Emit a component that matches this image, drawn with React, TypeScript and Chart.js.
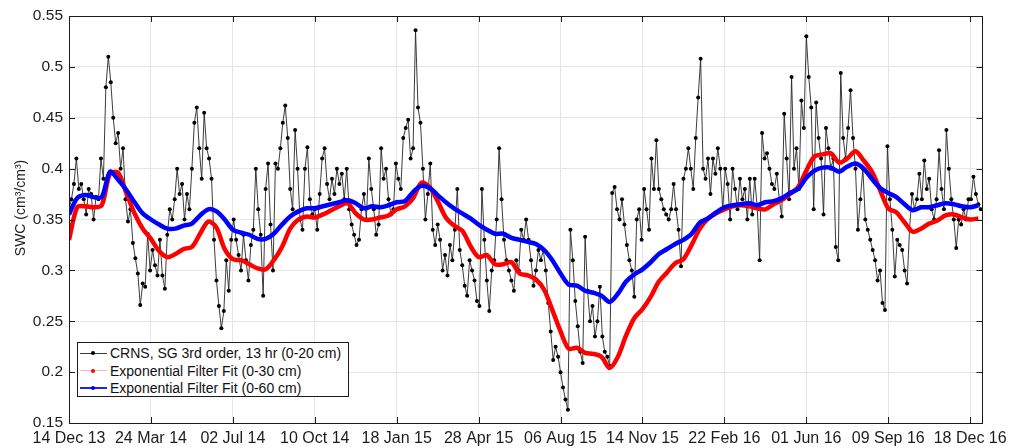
import React, { useEffect, useRef } from "react";
import { Chart, registerables } from "chart.js";

Chart.register(...registerables);

// x axis is measured in days after 14 Dec 2013
const X_MAX_DAYS = 1115;
const X_TICK_DAYS = [0, 100, 200, 300, 400, 500, 600, 700, 800, 900, 1000, 1100];
const X_TICK_LABELS = [
  "14 Dec 13", "24 Mar 14", "02 Jul 14", "10 Oct 14", "18 Jan 15", "28 Apr 15",
  "06 Aug 15", "14 Nov 15", "22 Feb 16", "01 Jun 16", "09 Sep 16", "18 Dec 16",
];
const Y_TICKS = [0.15, 0.2, 0.25, 0.3, 0.35, 0.4, 0.45, 0.5, 0.55];
const Y_TICK_LABELS = ["0.15", "0.2", "0.25", "0.3", "0.35", "0.4", "0.45", "0.5", "0.55"];

const Y_TITLE = "SWC (cm³/cm³)";
const SERIES_NAMES = [
  "CRNS, SG 3rd order, 13 hr (0-20 cm)",
  "Exponential Filter Fit (0-30 cm)",
  "Exponential Filter Fit (0-60 cm)",
];

// CRNS soil water content, one value every 3 days
const CRNS_STEP_DAYS = 3;
const CRNS_SWC = [
  0.36, 0.37, 0.385, 0.41, 0.38, 0.385, 0.37, 0.355, 0.38, 0.375,
  0.35, 0.372, 0.37, 0.41, 0.39, 0.48, 0.51, 0.485, 0.45, 0.425,
  0.435, 0.40, 0.42, 0.37, 0.348, 0.36, 0.327, 0.312, 0.297, 0.266,
  0.287, 0.284, 0.336, 0.30, 0.32, 0.305, 0.295, 0.33, 0.295, 0.282,
  0.335, 0.36, 0.35, 0.37, 0.40, 0.375, 0.385, 0.35, 0.375, 0.36,
  0.40, 0.445, 0.46, 0.42, 0.39, 0.455, 0.42, 0.41, 0.39, 0.33,
  0.29, 0.265, 0.243, 0.26, 0.31, 0.28, 0.33, 0.35, 0.33, 0.315,
  0.30, 0.335, 0.31, 0.29, 0.325, 0.34, 0.40, 0.36, 0.335, 0.275,
  0.38, 0.405, 0.345, 0.30, 0.405, 0.40, 0.42, 0.445, 0.462, 0.43,
  0.38, 0.36, 0.438, 0.40, 0.35, 0.34, 0.40, 0.421, 0.37, 0.355,
  0.36, 0.34, 0.375, 0.41, 0.42, 0.385, 0.37, 0.39, 0.375, 0.40,
  0.385, 0.395, 0.37, 0.40, 0.36, 0.345, 0.335, 0.325, 0.33, 0.36,
  0.375, 0.35, 0.41, 0.38, 0.36, 0.335, 0.345, 0.42, 0.39, 0.40,
  0.37, 0.355, 0.36, 0.405, 0.39, 0.38, 0.43, 0.44, 0.448, 0.41,
  0.42, 0.536, 0.46, 0.445, 0.40, 0.35, 0.375, 0.405, 0.34, 0.325,
  0.345, 0.33, 0.30, 0.315, 0.295, 0.325, 0.31, 0.34, 0.38, 0.32,
  0.305, 0.285, 0.275, 0.31, 0.30, 0.29, 0.27, 0.265, 0.38, 0.33,
  0.29, 0.26, 0.30, 0.31, 0.35, 0.42, 0.37, 0.33, 0.31, 0.30,
  0.29, 0.28, 0.31, 0.30, 0.34, 0.33, 0.35, 0.33, 0.31, 0.285,
  0.30, 0.32, 0.31, 0.32, 0.30, 0.268, 0.24, 0.212, 0.225, 0.215,
  0.20, 0.185, 0.173, 0.163, 0.34, 0.31, 0.27, 0.245, 0.22, 0.209,
  0.333, 0.28, 0.25, 0.265, 0.235, 0.25, 0.284, 0.235, 0.22, 0.215,
  0.206, 0.376, 0.382, 0.36, 0.35, 0.37, 0.345, 0.325, 0.31, 0.30,
  0.274, 0.35, 0.36, 0.33, 0.38, 0.36, 0.34, 0.41, 0.38, 0.428,
  0.38, 0.37, 0.36, 0.355, 0.35, 0.36, 0.385, 0.36, 0.34, 0.304,
  0.39, 0.40, 0.42, 0.40, 0.38, 0.43, 0.47, 0.508, 0.40, 0.39,
  0.41, 0.375, 0.41, 0.395, 0.42, 0.40, 0.36, 0.40, 0.385, 0.35,
  0.40, 0.38, 0.36, 0.39, 0.37, 0.38, 0.35, 0.39, 0.355, 0.39,
  0.363, 0.31, 0.435, 0.41, 0.415, 0.40, 0.385, 0.38, 0.395, 0.37,
  0.353, 0.454, 0.41, 0.37, 0.49, 0.40, 0.42, 0.38, 0.467, 0.44,
  0.53, 0.49, 0.46, 0.36, 0.465, 0.43, 0.41, 0.355, 0.44, 0.42,
  0.40, 0.41, 0.323, 0.31, 0.494, 0.43, 0.41, 0.44, 0.477, 0.43,
  0.40, 0.34, 0.37, 0.40, 0.35, 0.34, 0.33, 0.32, 0.31, 0.29,
  0.30, 0.268, 0.261, 0.422, 0.37, 0.34, 0.294, 0.33, 0.325, 0.32,
  0.30, 0.287, 0.34, 0.375, 0.36, 0.37, 0.395, 0.37, 0.408, 0.38,
  0.39, 0.36, 0.35, 0.37, 0.418, 0.38, 0.36, 0.438, 0.40, 0.37,
  0.35, 0.322, 0.35, 0.345, 0.36, 0.35, 0.37, 0.37, 0.392, 0.375,
  0.365, 0.36,
];

// Exponential filter fits, one value every 10 days
const FIT_STEP_DAYS = 10;
const FIT_0_30 = [
  0.330, 0.362, 0.363, 0.362, 0.364, 0.395, 0.396, 0.376, 0.356, 0.341,
  0.331, 0.319, 0.313, 0.316, 0.321, 0.323, 0.336, 0.348, 0.342, 0.321,
  0.311, 0.310, 0.306, 0.302, 0.301, 0.310, 0.323, 0.341, 0.350, 0.353,
  0.352, 0.355, 0.359, 0.363, 0.366, 0.356, 0.350, 0.350, 0.352, 0.354,
  0.360, 0.363, 0.371, 0.386, 0.382, 0.368, 0.352, 0.344, 0.339, 0.324,
  0.313, 0.315, 0.306, 0.306, 0.308, 0.297, 0.295, 0.291, 0.281, 0.261,
  0.240, 0.223, 0.224, 0.219, 0.218, 0.215, 0.204, 0.215, 0.236, 0.253,
  0.262, 0.274, 0.289, 0.298, 0.307, 0.311, 0.325, 0.341, 0.351, 0.356,
  0.360, 0.363, 0.364, 0.363, 0.361, 0.360, 0.365, 0.369, 0.375, 0.382,
  0.398, 0.412, 0.414, 0.415, 0.406, 0.410, 0.417, 0.408, 0.397, 0.379,
  0.361, 0.357, 0.347, 0.338, 0.341, 0.346, 0.349, 0.354, 0.355, 0.352,
  0.350, 0.351,
];
const FIT_0_60 = [
  0.355, 0.371, 0.374, 0.372, 0.372, 0.397, 0.389, 0.379, 0.367, 0.356,
  0.350, 0.345, 0.341, 0.341, 0.344, 0.346, 0.354, 0.360, 0.358, 0.350,
  0.340, 0.337, 0.335, 0.331, 0.331, 0.336, 0.345, 0.353, 0.358, 0.361,
  0.361, 0.363, 0.365, 0.367, 0.369, 0.366, 0.361, 0.363, 0.362, 0.364,
  0.367, 0.368, 0.377, 0.383, 0.381, 0.374, 0.367, 0.361, 0.356, 0.351,
  0.345, 0.340, 0.336, 0.336, 0.332, 0.330, 0.328, 0.326, 0.320, 0.310,
  0.297, 0.286, 0.285, 0.280, 0.278, 0.275, 0.269, 0.277, 0.289, 0.296,
  0.301, 0.308, 0.316, 0.321, 0.326, 0.330, 0.336, 0.347, 0.351, 0.357,
  0.362, 0.364, 0.365, 0.366, 0.364, 0.367, 0.368, 0.371, 0.376, 0.380,
  0.391, 0.398, 0.401, 0.401, 0.397, 0.402, 0.405, 0.400, 0.390, 0.381,
  0.376, 0.372, 0.365, 0.359, 0.362, 0.362, 0.364, 0.366, 0.365, 0.363,
  0.362, 0.364,
];

const FONT = "'Liberation Sans', Arial, Helvetica, sans-serif";
const INK = "#1c1c1c";

// axes box, inward tick marks and the rotated y title
const framePlugin = {
  id: "frame",
  afterDatasetsDraw(chart: any) {
    const { ctx, chartArea } = chart;
    const { left, right, top, bottom } = chartArea;
    const xs = chart.scales.x;
    const ys = chart.scales.y;
    ctx.save();
    ctx.strokeStyle = INK;
    ctx.lineWidth = 1;
    ctx.beginPath();
    for (const d of X_TICK_DAYS) {
      const px = Math.round(xs.getPixelForValue(d)) + 0.5;
      ctx.moveTo(px, bottom);
      ctx.lineTo(px, bottom - 6);
      ctx.moveTo(px, top);
      ctx.lineTo(px, top + 6);
    }
    for (const v of Y_TICKS) {
      const py = Math.round(ys.getPixelForValue(v)) + 0.5;
      ctx.moveTo(left, py);
      ctx.lineTo(left + 6, py);
      ctx.moveTo(right, py);
      ctx.lineTo(right - 6, py);
    }
    ctx.stroke();
    ctx.strokeRect(Math.round(left) + 0.5, Math.round(top) + 0.5, Math.round(right - left), Math.round(bottom - top));
    ctx.restore();
  },
  afterDraw(chart: any) {
    const { ctx } = chart;
    ctx.save();
    ctx.fillStyle = INK;
    ctx.font = `14px ${FONT}`;
    ctx.textAlign = "center";
    ctx.textBaseline = "middle";
    ctx.translate(21, 208);
    ctx.rotate(-Math.PI / 2);
    ctx.fillText(Y_TITLE, 0, 0);
    ctx.restore();
  },
};

const LEGEND_STYLES = [
  { line: "#3a3a3a", dot: "#000000", lineWidth: 1 },
  { line: "#ffb3b3", dot: "#ff0000", lineWidth: 1 },
  { line: "#2020ff", dot: "#0000ff", lineWidth: 1.5 },
];

export default function App() {
  const canvasRef = useRef<HTMLCanvasElement | null>(null);

  useEffect(() => {
    const canvas = canvasRef.current;
    if (!canvas) return;
    const chart = new Chart(canvas, {
      type: "line",
      data: {
        datasets: [
          {
            label: SERIES_NAMES[0],
            data: CRNS_SWC.map((v, i) => ({ x: i * CRNS_STEP_DAYS, y: v })),
            borderColor: "#262626",
            borderWidth: 0.9,
            pointRadius: 2,
            pointBackgroundColor: "#000000",
            pointBorderWidth: 0,
            tension: 0,
            order: 3,
          },
          {
            label: SERIES_NAMES[1],
            data: FIT_0_30.map((v, i) => ({ x: i * FIT_STEP_DAYS, y: v })),
            borderColor: "#ff0000",
            borderWidth: 4.5,
            pointRadius: 0,
            tension: 0.3,
            order: 2,
          },
          {
            label: SERIES_NAMES[2],
            data: FIT_0_60.map((v, i) => ({ x: i * FIT_STEP_DAYS, y: v })),
            borderColor: "#0000ff",
            borderWidth: 4.5,
            pointRadius: 0,
            tension: 0.3,
            order: 1,
          },
        ],
      },
      options: {
        animation: false,
        responsive: false,
        maintainAspectRatio: false,
        devicePixelRatio: 1,
        layout: { padding: { left: 0, right: 27, top: 16, bottom: 0 } },
        plugins: { legend: { display: false }, tooltip: { enabled: false } },
        scales: {
          x: {
            type: "linear",
            min: 0,
            max: X_MAX_DAYS,
            afterBuildTicks: (s: any) => {
              s.ticks = X_TICK_DAYS.map((v) => ({ value: v }));
            },
            afterFit: (s: any) => {
              s.height = 25;
            },
            grid: { color: "#e6e6e6", lineWidth: 1, drawTicks: false },
            border: { display: false },
            ticks: {
              padding: 6,
              autoSkip: false,
              maxRotation: 0,
              minRotation: 0,
              color: INK,
              font: { family: FONT, size: 16 },
              callback: (_v: any, i: number) => X_TICK_LABELS[i],
            },
          },
          y: {
            type: "linear",
            min: 0.15,
            max: 0.55,
            afterBuildTicks: (s: any) => {
              s.ticks = Y_TICKS.map((v) => ({ value: v }));
            },
            afterFit: (s: any) => {
              s.width = 69;
            },
            grid: { color: "#e6e6e6", lineWidth: 1, drawTicks: false },
            border: { display: false },
            ticks: {
              padding: 6,
              color: INK,
              font: { family: FONT, size: 15.5 },
              callback: (_v: any, i: number) => Y_TICK_LABELS[i],
            },
          },
        },
      },
      plugins: [framePlugin],
    });
    return () => chart.destroy();
  }, []);

  return (
    <div style={{ position: "fixed", left: 0, top: 0, width: 1013, height: 448, background: "#ffffff" }}>
      <canvas ref={canvasRef} width={1013} height={448} style={{ display: "block" }} />
      <div
        style={{
          position: "absolute",
          left: 77,
          top: 342,
          width: 272,
          height: 55,
          boxSizing: "border-box",
          border: `1px solid ${INK}`,
          background: "#ffffff",
          fontFamily: FONT,
          fontSize: 14,
          color: "#111111",
        }}
      >
        {SERIES_NAMES.map((name, i) => {
          const st = LEGEND_STYLES[i];
          const cy = 10 + i * 17.5;
          return (
            <div key={name} style={{ position: "absolute", left: 0, top: cy - 9, height: 18, width: "100%" }}>
              <div
                style={{
                  position: "absolute",
                  left: 2,
                  top: 9 - st.lineWidth / 2,
                  width: 27,
                  height: st.lineWidth,
                  background: st.line,
                }}
              />
              <div
                style={{
                  position: "absolute",
                  left: 13,
                  top: 7,
                  width: 4,
                  height: 4,
                  borderRadius: 2,
                  background: st.dot,
                }}
              />
              <div style={{ position: "absolute", left: 32, top: 0, lineHeight: "18px", whiteSpace: "nowrap" }}>
                {name}
              </div>
            </div>
          );
        })}
      </div>
    </div>
  );
}
